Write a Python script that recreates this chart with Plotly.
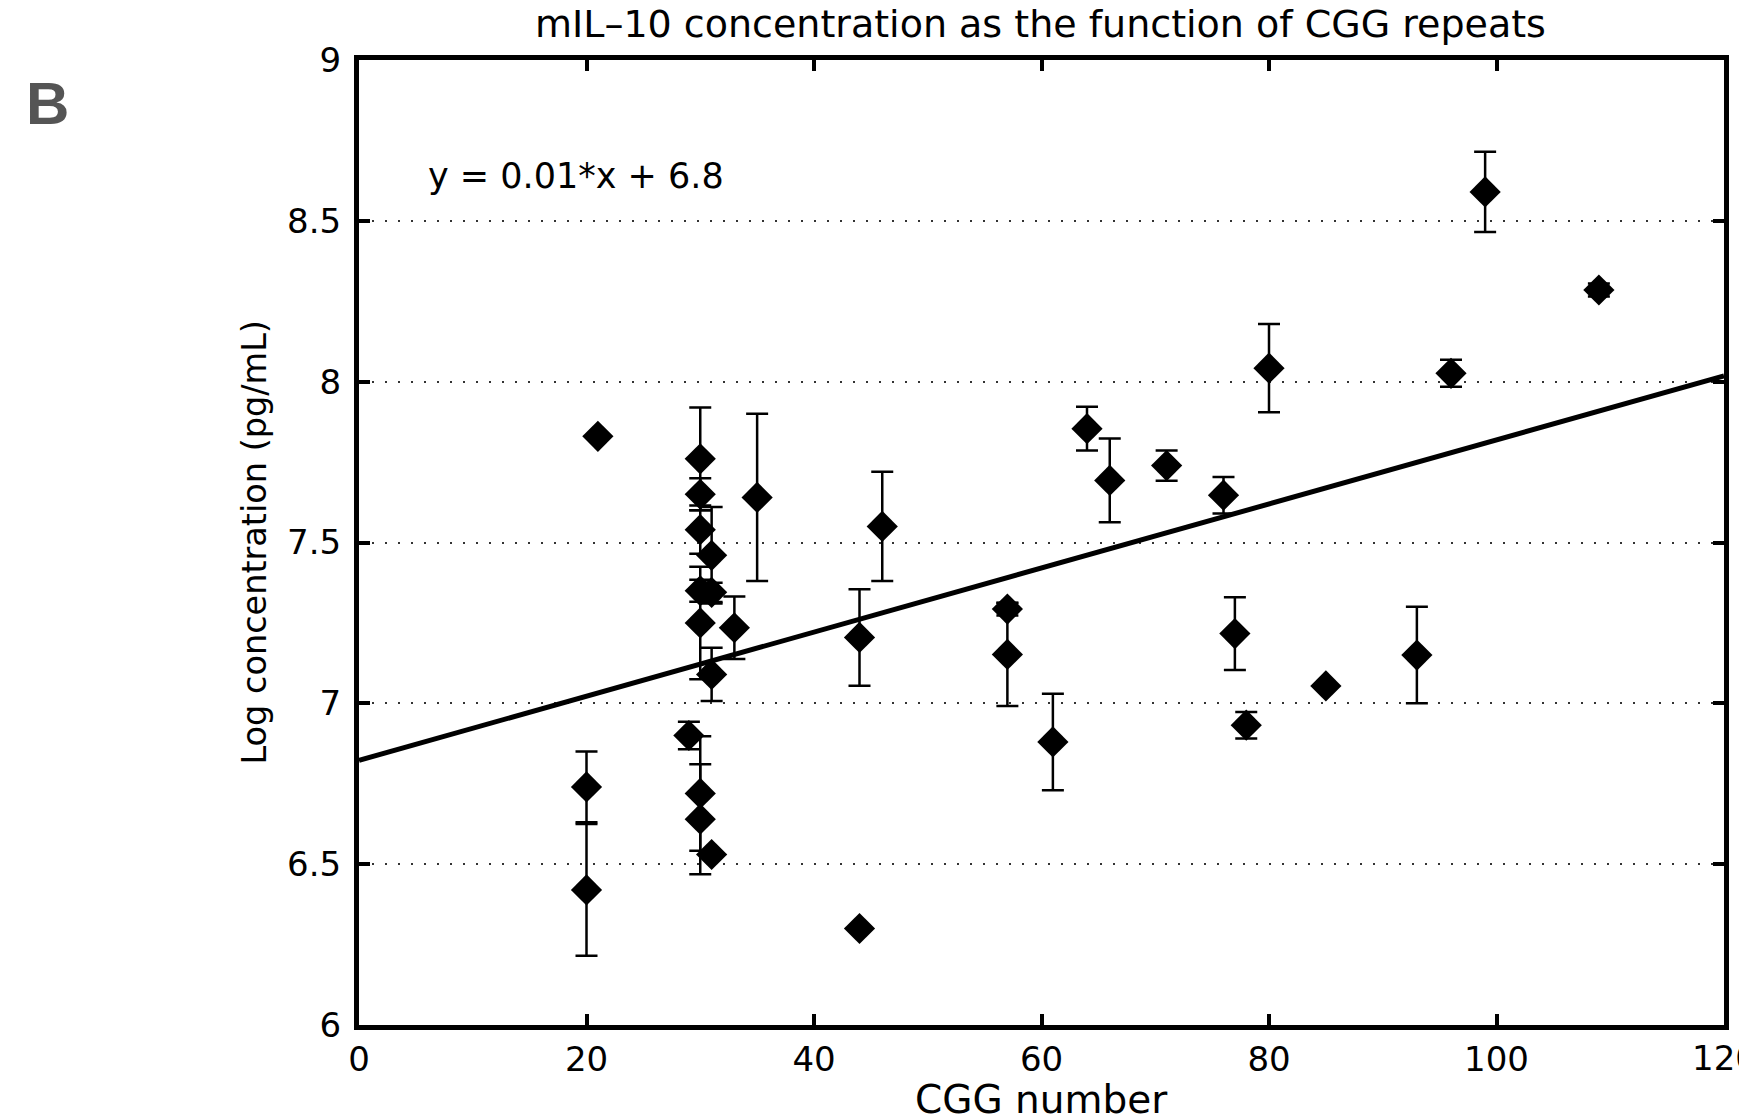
import plotly.graph_objects as go

# ---- data ----
cgg = [20, 20, 21, 29, 30, 30, 30, 30, 30, 30, 30, 31, 31, 31, 31, 33, 35,
       44, 44, 46, 57, 57, 61, 64, 66, 71, 76, 77, 78, 80, 85, 93, 96, 99, 109]
log_conc = [6.74, 6.42, 7.83, 6.90, 7.76, 7.65, 7.54, 7.35, 7.25, 6.72, 6.64,
            7.46, 7.345, 7.09, 6.53, 7.235, 7.64, 7.205, 6.30, 7.55, 7.293,
            7.152, 6.88, 7.854, 7.693, 7.739, 7.647, 7.217, 6.932, 8.042,
            7.054, 7.15, 8.026, 8.59, 8.285]
err = [0.11, 0.205, 0.0, 0.043, 0.16, 0.05, 0.075, 0.034, 0.175, 0.178, 0.171,
       0.15, 0.03, 0.083, 0.0, 0.097, 0.26, 0.15, 0.0, 0.17, 0.02, 0.16, 0.15,
       0.068, 0.13, 0.047, 0.057, 0.113, 0.041, 0.137, 0.0, 0.15, 0.042, 0.125,
       0.02]

fit_slope = 0.00996
fit_intercept = 6.823
fit_x = [0, 120]

x_ticks = [0, 20, 40, 60, 80, 100, 120]
y_ticks = [6, 6.5, 7, 7.5, 8, 8.5, 9]
y_tick_text = ["6", "6.5", "7", "7.5", "8", "8.5", "9"]

title_text = "mIL\u201310 concentration as the function of CGG repeats"
x_title = "CGG number"
y_title = "Log concentration (pg/mL)"
eq_text = "y = 0.01*x + 6.8"
panel_label = "B"

FONT = "DejaVu Sans"

fig = go.Figure()
fig.add_trace(go.Scatter(
    x=cgg, y=log_conc, mode="markers",
    marker=dict(symbol="diamond", size=24, color="black"),
    error_y=dict(type="data", array=err, visible=True, color="black",
                 thickness=2.5, width=11),
    showlegend=False,
))
fig.add_trace(go.Scatter(
    x=fit_x, y=[fit_slope * v + fit_intercept for v in fit_x],
    mode="lines", line=dict(color="black", width=5), showlegend=False,
))

# the page has an 8px body margin: positions below are page pixels
OFF = 8
W, H = 1747, 1116
PL, PR, PT, PB = 359, 1724, 60, 1025.5   # plot box in page pixels
L, T = PL - OFF, PT - OFF
R = W - (PR - OFF)
B = H - (PB - OFF)
pw, ph = W - L - R, H - T - B


def px(xp):
    return (xp - OFF - L) / pw


def py(yp):
    return 1 - (yp - OFF - T) / ph


annotations = [
    dict(text=title_text, xref="paper", yref="paper",
         x=px(1040), y=py(24), xanchor="center",
         yanchor="middle", showarrow=False, font=dict(size=38)),
    dict(text=x_title, xref="paper", yref="paper",
         x=px(1041), y=py(1100), xanchor="center",
         yanchor="middle", showarrow=False, font=dict(size=39)),
    dict(text=y_title, xref="paper", yref="paper",
         x=px(254), y=0.5, xanchor="center", yanchor="middle",
         textangle=-90, showarrow=False, font=dict(size=33.5)),
    dict(text=eq_text, xref="x", yref="y", x=5.9, y=8.64,
         xanchor="left", yanchor="middle", showarrow=False,
         font=dict(size=35)),
    dict(text="<b>" + panel_label + "</b>", xref="paper", yref="paper",
         x=px(24), y=py(104), xanchor="left",
         yanchor="middle", showarrow=False,
         font=dict(family="Liberation Sans", size=60, color="#555555")),
    # last x tick label runs past the page edge (as in the reference);
    # drawn as an annotation so it does not squeeze the plot area
    dict(text=str(x_ticks[-1]), xref="x", yref="paper",
         x=x_ticks[-1], y=py(1059), xanchor="center", yanchor="middle",
         showarrow=False, font=dict(size=34)),
]

fig.update_layout(
    width=W, height=H,
    margin=dict(l=L, r=R, t=T, b=B, autoexpand=False),
    paper_bgcolor="white", plot_bgcolor="white",
    font=dict(family=FONT, color="black", size=34),
    xaxis=dict(range=[0, 120], tickvals=x_ticks,
               ticktext=[str(v) for v in x_ticks[:-1]] + [""],
               showgrid=False, zeroline=False,
               showline=True, linecolor="black", linewidth=5, mirror="ticks",
               ticks="inside", ticklen=11, tickwidth=3.5, tickcolor="black",
               tickfont=dict(family=FONT, size=34), ticklabelstandoff=0,
               automargin=False),
    yaxis=dict(range=[6, 9], tickvals=y_ticks, ticktext=y_tick_text,
               showgrid=True, gridcolor="#333333", gridwidth=2,
               griddash="2px,11px", zeroline=False,
               showline=True, linecolor="black", linewidth=5, mirror="ticks",
               ticks="inside", ticklen=11, tickwidth=3.5, tickcolor="black",
               tickfont=dict(family=FONT, size=34), ticklabelstandoff=6,
               automargin=False),
    annotations=annotations,
)

fig.write_html("out.html")
